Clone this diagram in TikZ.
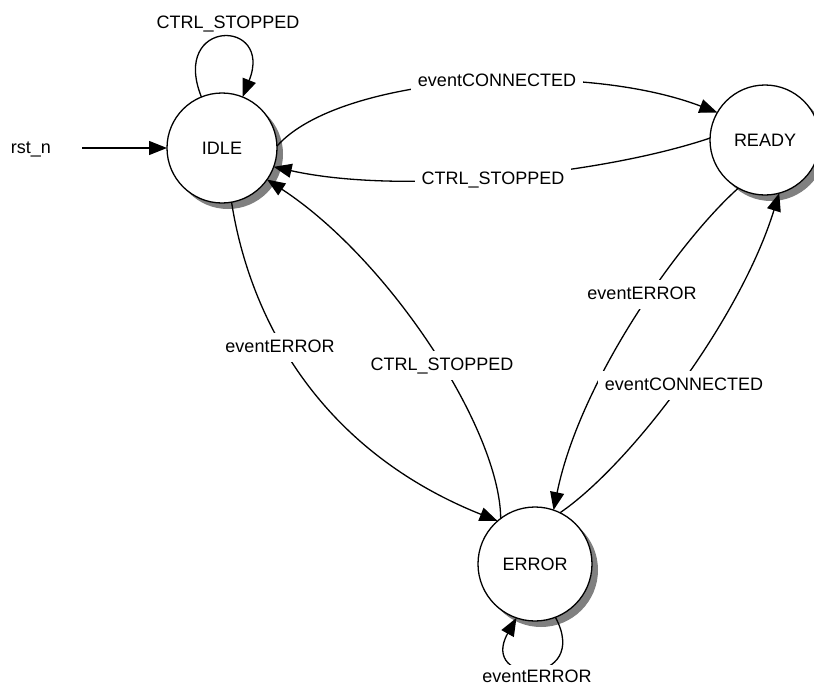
\documentclass[tikz,border=0pt]{standalone}
\usepackage{fontspec}
\setmainfont{Liberation Sans}
\usetikzlibrary{arrows.meta}
\tikzset{
  state/.style={circle, draw=black, fill=white, line width=1.3pt, inner sep=0pt, outer sep=0pt,
    font=\fontsize{18}{22}\selectfont},
  edge/.style={draw=black, line width=1.3pt, -{Triangle[length=18pt,width=14pt]}},
  lbl/.style={fill=white, anchor=base, inner xsep=7pt, inner ysep=6pt, text height=13pt, text depth=4pt,
    font=\fontsize{18}{22}\selectfont},
  plain/.style={anchor=base, inner sep=0pt, font=\fontsize{18}{22}\selectfont},
  shadowfill/.style={fill=black!50}
}
\begin{document}
\begin{tikzpicture}[x=1pt,y=-1pt]
\useasboundingbox (0,0) rectangle (814,686);
\fill[white] (0,0) rectangle (814,686);
% shadows
\fill[shadowfill] (228,154) circle[radius=55pt];
\fill[shadowfill] (771,146) circle[radius=55pt];
\fill[shadowfill] (541,570) circle[radius=57pt];
% states
\node[state, minimum size=110pt] (IDLE) at (222,148) {IDLE};
\node[state, minimum size=110pt] (READY) at (765,140) {READY};
\node[state, minimum size=114pt] (ERROR) at (535,564) {ERROR};
% reset
\node[plain] (rstlbl) at (31,153) {rst\_n};
\coordinate (rst) at (82,148);
\draw[edge] (rst) -- (IDLE.west);
% IDLE self-loop
\draw[edge] (IDLE.112) .. controls (170,18) and (274,18) .. (IDLE.68);
\node[plain] (l0) at (228,28) {CTRL\_STOPPED};
% IDLE -> READY
\draw[edge] (IDLE.2) .. controls (340,75) and (580,60) .. (READY.150);
\node[lbl] (l1) at (497,86) {eventCONNECTED};
% READY -> IDLE
\draw[edge] (READY.178) .. controls (600,175) and (400,195) .. (IDLE.-20);
\node[lbl] (l2) at (493,184) {CTRL\_STOPPED};
% IDLE -> ERROR
\draw[edge] (IDLE.-80) .. controls (250,320) and (320,450) .. (ERROR.131);
\node[lbl] (l3) at (280,352) {eventERROR};
% ERROR -> IDLE
\draw[edge] (ERROR.127) .. controls (500,430) and (390,260) .. (IDLE.-35);
\node[lbl] (l4) at (442,370) {CTRL\_STOPPED};
% READY -> ERROR
\draw[edge] (READY.241) .. controls (680,240) and (580,380) .. (ERROR.71);
\node[lbl] (l5) at (642,299) {eventERROR};
% ERROR -> READY
\draw[edge] (ERROR.64) .. controls (630,465) and (740,320) .. (READY.-75);
\node[lbl] (l6) at (684,390) {eventCONNECTED};
% ERROR self-loop
\draw[edge] (ERROR.-69) .. controls (592,686) and (478,686) .. (ERROR.-109);
\node[lbl, text depth=2pt, inner ysep=4pt] (l7) at (537,682) {eventERROR};
\end{tikzpicture}
\end{document}
